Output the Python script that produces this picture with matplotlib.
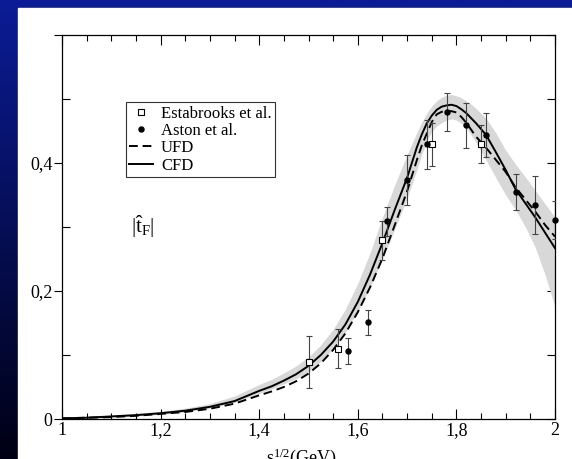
import numpy as np
import matplotlib
matplotlib.use("Agg")
import matplotlib.pyplot as plt
from matplotlib.patches import Rectangle
from matplotlib.ticker import MultipleLocator, FuncFormatter

plt.rcParams['font.family'] = ['Liberation Serif', 'DejaVu Serif']
plt.rcParams['mathtext.fontset'] = 'stix'

# model curves
x_curve = [1.0, 1.05, 1.1, 1.15, 1.2, 1.25, 1.3, 1.35, 1.4, 1.425, 1.45, 1.475, 1.5,
           1.525, 1.55, 1.575, 1.6, 1.625, 1.65, 1.675, 1.7, 1.72, 1.73, 1.74, 1.75,
           1.76, 1.77, 1.78, 1.79, 1.8, 1.81, 1.82, 1.83, 1.84, 1.86, 1.88,
           1.9, 1.92, 1.94, 1.96, 1.98, 2.0]
cfd = [0.001, 0.002, 0.004, 0.006, 0.009, 0.013, 0.019, 0.028, 0.044, 0.051, 0.060,
       0.070, 0.083, 0.100, 0.121, 0.148, 0.183, 0.226, 0.275, 0.327, 0.377, 0.425,
       0.445, 0.462, 0.474, 0.483, 0.488, 0.490, 0.491, 0.489, 0.484, 0.478, 0.470,
       0.462, 0.444, 0.417, 0.389, 0.359, 0.337, 0.315, 0.291, 0.267]
ufd = [0.001, 0.002, 0.003, 0.005, 0.008, 0.011, 0.016, 0.024, 0.037, 0.043, 0.050,
       0.059, 0.071, 0.087, 0.108, 0.134, 0.167, 0.206, 0.251, 0.303, 0.356, 0.405,
       0.428, 0.446, 0.464, 0.476, 0.480, 0.481, 0.481, 0.479, 0.472, 0.463, 0.452,
       0.441, 0.424, 0.405, 0.386, 0.362, 0.343, 0.324, 0.303, 0.285]
band_lo = [0.000, 0.001, 0.003, 0.005, 0.007, 0.011, 0.017, 0.026, 0.040, 0.047, 0.055,
           0.063, 0.074, 0.090, 0.110, 0.136, 0.168, 0.206, 0.250, 0.297, 0.345, 0.390,
           0.414, 0.435, 0.449, 0.458, 0.463, 0.467, 0.469, 0.467, 0.462, 0.455, 0.444,
           0.432, 0.405, 0.377, 0.350, 0.327, 0.300, 0.268, 0.225, 0.175]
band_hi = [0.002, 0.004, 0.006, 0.009, 0.012, 0.017, 0.024, 0.036, 0.054, 0.062, 0.072,
           0.083, 0.097, 0.116, 0.140, 0.172, 0.212, 0.260, 0.315, 0.366, 0.413, 0.448,
           0.464, 0.478, 0.489, 0.497, 0.503, 0.506, 0.507, 0.505, 0.502, 0.497, 0.492,
           0.485, 0.470, 0.447, 0.420, 0.398, 0.378, 0.357, 0.336, 0.315]

# data points
estab_x = [1.50, 1.56, 1.65, 1.75, 1.85]
estab_y = [0.089, 0.110, 0.279, 0.429, 0.430]
estab_err = [0.040, 0.030, 0.030, 0.033, 0.030]

aston_x = [1.58, 1.62, 1.66, 1.70, 1.74, 1.78, 1.82, 1.86, 1.92, 1.96, 2.00]
aston_y = [0.106, 0.151, 0.309, 0.374, 0.429, 0.480, 0.459, 0.444, 0.355, 0.334, 0.311]
aston_err = [0.020, 0.019, 0.023, 0.039, 0.038, 0.030, 0.035, 0.034, 0.028, 0.045, 0.030]

fig = plt.figure(figsize=(5.72, 4.59), dpi=100)

# slide background: blue gradient strip left/top, white page
bg = fig.add_axes([0, 0, 1, 1], zorder=-10)
grad = np.linspace(0, 1, 256).reshape(-1, 1)
cmap = matplotlib.colors.LinearSegmentedColormap.from_list('slide', ['#0b1c96', '#000014'])
bg.imshow(grad, aspect='auto', cmap=cmap, extent=[0, 1, 0, 1])
bg.add_patch(Rectangle((18 / 572, 0), 1, (459 - 8) / 459, color='white',
                       transform=bg.transAxes))
bg.set_xlim(0, 1)
bg.set_ylim(0, 1)
bg.axis('off')

ax = fig.add_axes([62 / 572, 40 / 459, 493 / 572, 384 / 459])
ax.set_facecolor('none')

ax.fill_between(x_curve, band_lo, band_hi, color='#d8d8d8', lw=0, zorder=1)
ax.plot(x_curve, ufd, color='black', lw=1.4, dashes=(4.5, 2.5), zorder=3, label='UFD')
ax.plot(x_curve, cfd, color='black', lw=1.4, zorder=3, label='CFD')

ax.errorbar(estab_x, estab_y, yerr=estab_err, fmt='none', ecolor='#444444',
            elinewidth=0.8, capsize=2.5, capthick=0.8, zorder=4)
ax.errorbar(aston_x, aston_y, yerr=aston_err, fmt='none', ecolor='#444444',
            elinewidth=0.8, capsize=2.5, capthick=0.8, zorder=4)
h_e, = ax.plot(estab_x, estab_y, 's', ms=4, mfc='white', mec='black', mew=0.8,
               ls='none', zorder=5, label='Estabrooks et al.')
h_a, = ax.plot(aston_x, aston_y, 'o', ms=3.6, color='black', ls='none', zorder=5,
               label='Aston et al.', clip_on=False)

ax.set_xlim(1, 2)
ax.set_ylim(0, 0.6)
ax.xaxis.set_major_locator(MultipleLocator(0.2))
ax.xaxis.set_minor_locator(MultipleLocator(0.05))
ax.yaxis.set_major_locator(MultipleLocator(0.2))
ax.yaxis.set_minor_locator(MultipleLocator(0.1))

def comma(v, pos):
    if abs(v - 0.6) < 1e-6:
        return ''
    s = '%g' % round(v, 2)
    return s.replace('.', ',')

ax.xaxis.set_major_formatter(FuncFormatter(comma))
ax.yaxis.set_major_formatter(FuncFormatter(comma))

ax.tick_params(axis='x', which='both', direction='in', top=True, labelsize=13, pad=2)
ax.tick_params(axis='x', which='major', length=7, width=0.8)
ax.tick_params(axis='x', which='minor', length=4, width=0.8)
ax.tick_params(axis='y', which='major', direction='out', length=6, width=0.8, labelsize=13, pad=1)
ax.tick_params(axis='y', which='minor', direction='in', length=6, width=0.8)
for sp in ax.spines.values():
    sp.set_linewidth(0.9)

right = ax.secondary_yaxis('right')
right.yaxis.set_major_locator(MultipleLocator(0.1))
right.tick_params(direction='in', length=6, width=0.8, labelright=False)
right.spines['right'].set_visible(False)

leg = ax.legend(handles=[h_e, h_a, ax.lines[0], ax.lines[1]],
                loc='upper left', bbox_to_anchor=(0.13, 0.825), borderaxespad=0,
                frameon=True, fancybox=False, edgecolor='black', fontsize=12,
                handlelength=1.4, handletextpad=0.5, labelspacing=0.08, borderpad=0.2)
leg.get_frame().set_linewidth(0.8)

ax.text(1.14, 0.30, r'$\mathregular{|\hat{t}_F|}$', fontsize=15, ha='left', va='center')

fig.text(0.527, -0.008, r'$\mathregular{s^{1/2}}$(GeV)', fontsize=13, ha='center',
         va='baseline')

fig.savefig('out.png', dpi=100)
